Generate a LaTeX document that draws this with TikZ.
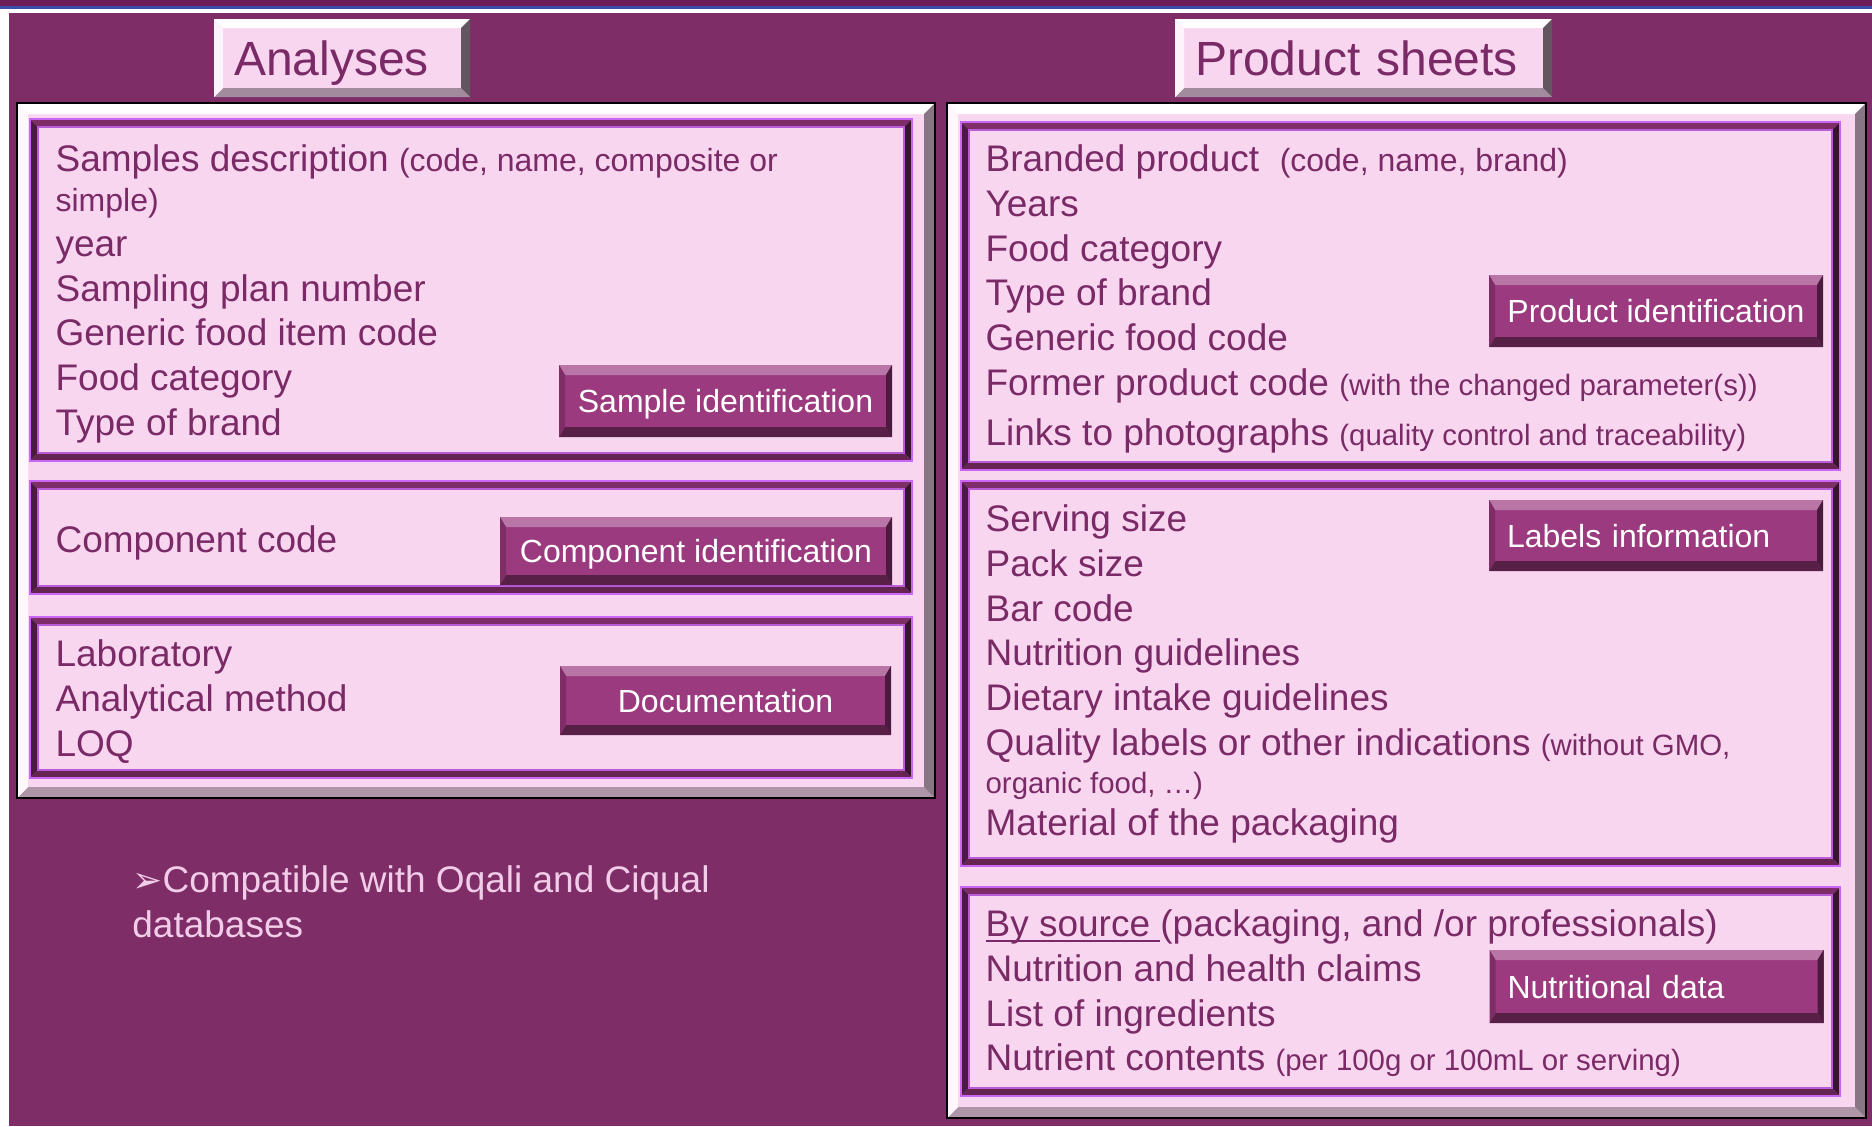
\documentclass[tikz,border=0pt]{standalone}
\usepackage{fontspec}
\setmainfont{Liberation Sans}
\newfontfamily\dingfont{DejaVu Sans}
\usetikzlibrary{positioning,fit}

\definecolor{plum}{HTML}{7E2D66}
\definecolor{plumdark}{HTML}{6C1F58}
\definecolor{plumtext}{HTML}{7A2A66}
\definecolor{blush}{HTML}{F9D6F0}
\definecolor{btnfill}{HTML}{9B3A7E}
\definecolor{lilac}{HTML}{C966F5}
\definecolor{notepink}{HTML}{F2CDEA}
\definecolor{slideblue}{HTML}{3C4DA8}

\newcommand{\maintext}{\fontsize{18.5}{22.4}\selectfont}
\newcommand{\smalltxt}{\fontsize{16}{22.4}\selectfont}
\newcommand{\tinytxt}{\fontsize{14.7}{22.4}\selectfont}
\newcommand{\btntext}{\fontsize{16}{19}\selectfont}
\newcommand{\headtext}{\fontsize{24}{28}\selectfont}
% underline sitting just under the baseline
\newcommand{\srcul}[1]{\setbox0\hbox{#1}\rlap{\rule[-2.6pt]{\wd0}{1.1pt}}\box0}

\tikzset{
  % raised edge: {x depth}{y depth}{top}{left}{right}{bottom}{inner rim}
  bevel/.style n args={7}{path picture={
      \coordinate (bvnw) at (path picture bounding box.north west);
      \coordinate (bvse) at (path picture bounding box.south east);
      \coordinate (bvne) at (bvnw -| bvse);
      \coordinate (bvsw) at (bvnw |- bvse);
      \fill[#3] (bvnw) -- (bvne) -- ([shift={(-#1,-#2)}]bvne) -- ([shift={(#1,-#2)}]bvnw) -- cycle;
      \fill[#6] (bvsw) -- (bvse) -- ([shift={(-#1,#2)}]bvse) -- ([shift={(#1,#2)}]bvsw) -- cycle;
      \fill[#4] (bvnw) -- ([shift={(#1,-#2)}]bvnw) -- ([shift={(#1,#2)}]bvsw) -- (bvsw) -- cycle;
      \fill[#5] (bvne) -- ([shift={(-#1,-#2)}]bvne) -- ([shift={(-#1,#2)}]bvse) -- (bvse) -- cycle;
      \draw[#7, line width=0.6pt] ([shift={(#1,-#2)}]bvnw) rectangle ([shift={(-#1,#2)}]bvse);
  }},
  frame/.style={draw=black, line width=1.2pt, fill=blush, inner sep=0pt,
    bevel={5.5pt}{5.5pt}{white}{white!80!blush}{black!45!blush}{black!30!blush}{draw=none}},
  panel/.style={draw=lilac, line width=0.8pt, fill=blush, inner sep=0pt,
    bevel={4pt}{4pt}{plum}{plum!60!black}{plum!45!black}{plum!80!black}{draw=lilac!80!plum}},
  button/.style={fill=btnfill, text=white, font=\btntext, inner sep=0pt,
    text height=11.5pt, text depth=0pt,
    bevel={3pt}{5pt}{btnfill!70!white}{plum}{plum!60!black}{plum!70!black}{draw=none}},
  leftbutton/.style={button, text width=149pt, align=left, inner xsep=9pt},
  headbox/.style={fill=blush, text=plumtext, font=\headtext, inner sep=0pt,
    inner xsep=10pt, align=left, minimum height=39pt,
    text height=17pt, text depth=0pt,
    bevel={4.5pt}{4.5pt}{white}{white!70!blush}{black!60!blush}{black!35!blush}{draw=none}},
  txt/.style={text=plumtext, font=\maintext, align=left, inner sep=0pt},
}

\begin{document}
\begin{tikzpicture}[x=0.5pt, y=-0.5pt]
  \useasboundingbox (0,0) rectangle (1872,1126);

  % slide background
  \fill[plum] (0,0) rectangle (1872,1126);
  \fill[plumdark] (0,0) rectangle (1872,6);
  \fill[slideblue] (0,6) rectangle (1872,8.5);
  \fill[white] (0,8.5) rectangle (1872,12.5);
  \fill[white] (0,12.5) rectangle (8.5,1126);

  % headings
  \node[headbox, text width=108pt] (analyses) at (342,58) {Analyses};
  \node[headbox, text width=168.5pt] (sheets) at (1363.5,58) {Product sheets};

  % outer frames
  \node[frame, fit={(17,103) (935,798)}] (leftframe) {};
  \node[frame, fit={(947,103) (1866,1118)}] (rightframe) {};

  % analyses side
  \node[panel, fit={(30,119) (912,461)}] (samples) {};
  \node[panel, fit={(30,481) (912,594)}] (component) {};
  \node[panel, fit={(30,617) (912,778)}] (lab) {};

  \node[txt] (samplestxt) [below right=10.8pt and 13pt of samples.north west]
    {\strut Samples description {\smalltxt (code, name, composite or}\\[-2.4pt]
     {\smalltxt simple)}\\
     year\\
     Sampling plan number\\
     Generic food item code\\
     Food category\\
     Type of brand};
  \node[txt] (componenttxt) [below right=20.3pt and 13pt of component.north west]
    {\strut Component code};
  \node[txt] (labtxt) [below right=9.3pt and 13pt of lab.north west]
    {\strut Laboratory\\
     Analytical method\\
     LOQ};

  \node[button, minimum width=166.5pt, minimum height=36pt] (sampleid) at (725.5,401) {Sample identification};
  \node[button, minimum width=196pt, minimum height=34pt] (compid) at (696,551) {Component identification};
  \node[button, minimum width=165.5pt, minimum height=34.5pt] (docu) at (725.5,700.5) {Documentation};

  % product sheets side
  \node[panel, fit={(961,122) (1840,470)}] (branded) {};
  \node[panel, fit={(961,481) (1840,866)}] (labels) {};
  \node[panel, fit={(961,887) (1840,1096)}] (source) {};

  \node[txt] (brandedtxt) [below right=9.3pt and 12.5pt of branded.north west]
    {\strut Branded product\ \ {\smalltxt (code, name, brand)}\\
     Years\\
     Food category\\
     Type of brand\\
     Generic food code\\
     Former product code {\tinytxt (with the changed parameter(s))}\\[2.6pt]
     Links to photographs {\tinytxt (quality control and traceability)}};
  \node[txt] (labelstxt) [below right=9.8pt and 12.5pt of labels.north west]
    {\strut Serving size\\
     Pack size\\
     Bar code\\
     Nutrition guidelines\\
     Dietary intake guidelines\\
     Quality labels or other indications {\tinytxt (without GMO,}\\[-3.4pt]
     {\tinytxt organic food, …)}\\[-1.4pt]
     Material of the packaging};
  \node[txt] (sourcetxt) [below right=9.3pt and 12.5pt of source.north west]
    {\strut \srcul{By source\ }(packaging, and /or professionals)\\
     Nutrition and health claims\\
     List of ingredients\\
     Nutrient contents {\tinytxt (per 100g or 100mL or serving)}};

  \node[button, minimum width=167pt, minimum height=36pt] (prodid) at (1656,311) {Product identification};
  \node[leftbutton, minimum height=35.5pt] (labelinfo) at (1656,535.5) {Labels information};
  \node[leftbutton, minimum height=36.5pt] (nutri) at (1656.5,986.5) {Nutritional data};

  % note under the analyses frame
  \node[txt, text=notepink] (compat) at (132,860.6) [anchor=north west]
    {\strut{\dingfont\fontsize{18}{22.4}\selectfont ➢}Compatible with Oqali and Ciqual\\
     databases};
\end{tikzpicture}
\end{document}
